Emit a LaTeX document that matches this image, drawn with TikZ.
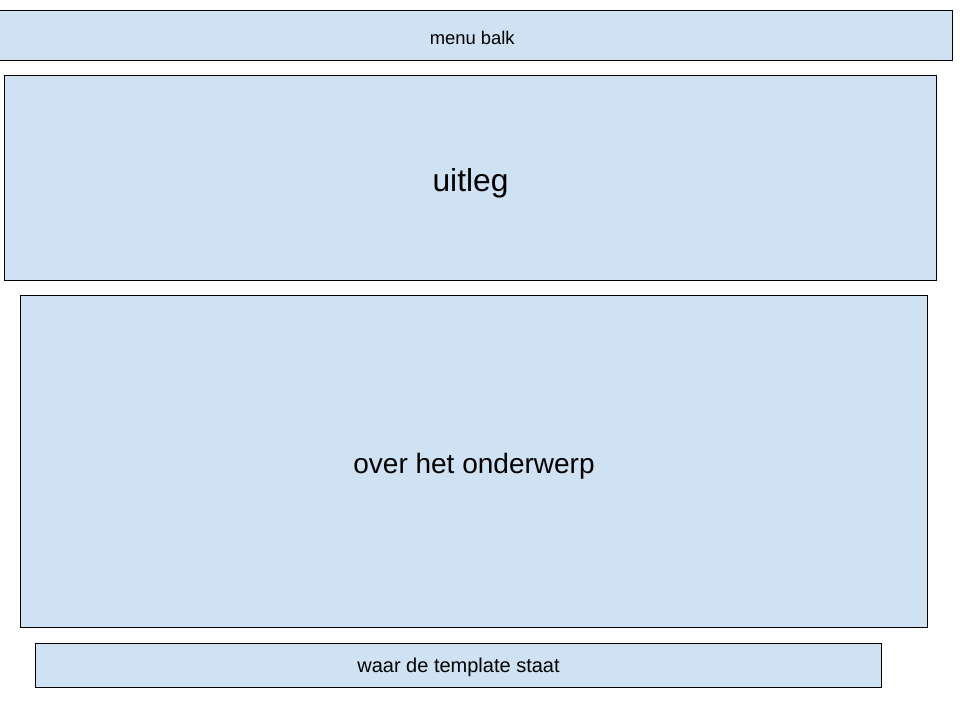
\documentclass[tikz,border=0pt]{standalone}
\usepackage{fontspec}
\setmainfont{Liberation Sans}
\definecolor{boxblue}{HTML}{CFE2F3}
\begin{document}
\begin{tikzpicture}[x=0.75pt,y=-0.75pt,
  panel/.style={draw=black,fill=boxblue,line width=0.75pt,rectangle,inner sep=0pt,anchor=center},
  lbl/.style={inner sep=0pt,anchor=center,text=black}]
\useasboundingbox (0,0) rectangle (960,720);
\begin{scope}
\clip (0,0) rectangle (960,720);
\node[panel,minimum width=960.5*0.75pt,minimum height=50.5*0.75pt] (menu) at (472.25,35.75) {};
\end{scope}
\node[panel,minimum width=932*0.75pt,minimum height=205.5*0.75pt] (uitleg) at (470.5,178.25) {};
\node[panel,minimum width=907*0.75pt,minimum height=332*0.75pt] (over) at (474,461.5) {};
\node[panel,minimum width=846*0.75pt,minimum height=44.3*0.75pt] (waar) at (458.5,665.15) {};
\node[lbl,font=\fontsize{13.8pt}{16pt}\selectfont,yshift=-1.5pt] (t1) at (menu.center) {menu balk};
\node[lbl,font=\fontsize{23.8pt}{28pt}\selectfont,yshift=-3.6pt] (t2) at (uitleg.center) {uitleg};
\node[lbl,font=\fontsize{21pt}{25pt}\selectfont,yshift=-3.4pt] (t3) at (over.center) {over het onderwerp};
\node[lbl,font=\fontsize{15pt}{18pt}\selectfont,yshift=-1.5pt] (t4) at (waar.center) {waar de template staat};
\end{tikzpicture}
\end{document}
